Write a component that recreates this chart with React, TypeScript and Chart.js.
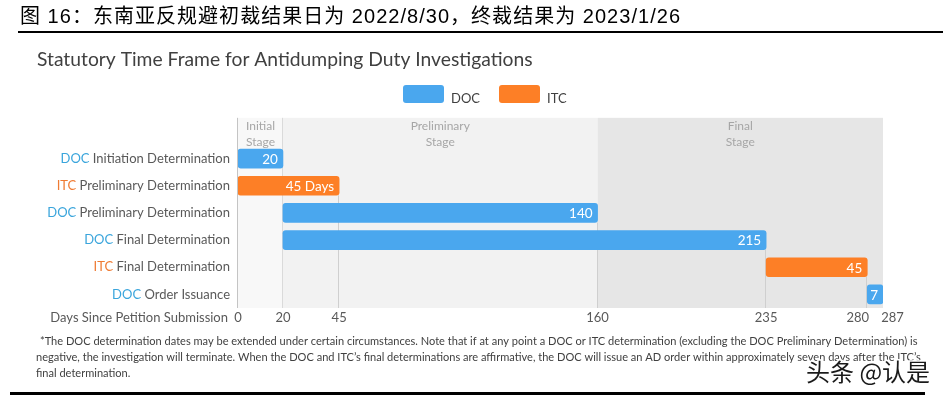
import React, { useEffect, useRef } from "react";
import { Chart, registerables } from "chart.js";

Chart.register(...registerables);

const headerText = "图 16：东南亚反规避初裁结果日为 2022/8/30，终裁结果为 2023/1/26";
const chartTitle = "Statutory Time Frame for Antidumping Duty Investigations";
const agencies = ["DOC", "ITC", "DOC", "DOC", "ITC", "DOC"];
const steps = [
  "Initiation Determination",
  "Preliminary Determination",
  "Preliminary Determination",
  "Final Determination",
  "Final Determination",
  "Order Issuance",
];
const categories = agencies.map((a, i) => a + " " + steps[i]);
const startDays = [0, 0, 20, 20, 235, 280];
const endDays = [20, 45, 160, 235, 280, 287];
const barLabels = ["20", "45 Days", "140", "215", "45", "7"];
const xTicks = [0, 20, 45, 160, 235, 280, 287];
const xAxisTitle = "Days Since Petition Submission";
const stageNames = [
  ["Initial", "Stage"],
  ["Preliminary", "Stage"],
  ["Final", "Stage"],
];
const stageStart = [0, 20, 160];
const stageEnd = [20, 160, 287];
const footnote = [
  "*The DOC determination dates may be extended under certain circumstances. Note that if at any point a DOC or ITC determination (excluding the DOC Preliminary Determination) is",
  "negative, the investigation will terminate. When the DOC and ITC\u2019s final determinations are affirmative, the DOC will issue an AD order within approximately seven days after the ITC\u2019s",
  "final determination.",
];
const watermark = "头条 @认是";

const BLUE = "#4aa7ee";
const ORANGE = "#fd7f26";
const DOC_TEXT = "#3aa5dc";
const ITC_TEXT = "#ef7b33";
const GRAY_TEXT = "#595959";
const STAGE_BG = ["#f8f8f8", "#f2f2f2", "#e6e6e6"];
const LATIN = "Lato, 'Liberation Sans', sans-serif";

function fitFont(ctx: CanvasRenderingContext2D, text: string, base: number, family: string, target: number) {
  ctx.font = base + "px " + family;
  const w = ctx.measureText(text).width;
  const size = (base * target) / w;
  ctx.font = size.toFixed(2) + "px " + family;
}

export default function App() {
  const ref = useRef<HTMLCanvasElement | null>(null);

  useEffect(() => {
    const canvas = ref.current;
    if (!canvas) return;

    const docData = categories.map((_, i) =>
      agencies[i] === "DOC" ? [startDays[i], endDays[i]] : null
    );
    const itcData = categories.map((_, i) =>
      agencies[i] === "ITC" ? [startDays[i], endDays[i]] : null
    );

    const decor = {
      id: "decor",
      beforeDraw(chart: any) {
        const ctx = chart.ctx;
        ctx.save();
        ctx.fillStyle = "#ffffff";
        ctx.fillRect(0, 0, chart.width, chart.height);
        ctx.restore();
      },
      beforeDatasetsDraw(chart: any) {
        const ctx = chart.ctx;
        const xs = chart.scales.x;
        const ys = chart.scales.y;
        const area = chart.chartArea;
        const rowH = area.height / categories.length;
        const top = area.top - rowH;
        ctx.save();
        stageStart.forEach((s, i) => {
          const x0 = xs.getPixelForValue(s);
          const x1 = xs.getPixelForValue(stageEnd[i]);
          ctx.fillStyle = STAGE_BG[i];
          ctx.fillRect(x0, top, x1 - x0, area.bottom - top);
          ctx.fillStyle = "#a6a6a6";
          ctx.font = "12px " + LATIN;
          ctx.textAlign = "center";
          ctx.textBaseline = "middle";
          ctx.fillText(stageNames[i][0], (x0 + x1) / 2, top + 8.5);
          ctx.fillText(stageNames[i][1], (x0 + x1) / 2, top + 24);
        });
        ctx.lineWidth = 1;
        [0, 20].forEach((v, k) => {
          const x = Math.round(xs.getPixelForValue(v)) - 0.5;
          ctx.strokeStyle = k === 0 ? "#c4c4c4" : "#dadada";
          ctx.beginPath();
          ctx.moveTo(x, top);
          ctx.lineTo(x, area.bottom);
          ctx.stroke();
        });
        ctx.strokeStyle = "#cfcfcf";
        endDays.forEach((e, i) => {
          if (e === 20 || e === xs.max) return;
          const x = Math.round(xs.getPixelForValue(e)) - 0.5;
          const y = ys.getPixelForValue(i) + 9.5;
          ctx.beginPath();
          ctx.moveTo(x, y);
          ctx.lineTo(x, area.bottom);
          ctx.stroke();
        });
        ctx.restore();
      },
      afterDatasetsDraw(chart: any) {
        const ctx = chart.ctx;
        const xs = chart.scales.x;
        const ys = chart.scales.y;
        const area = chart.chartArea;
        ctx.save();
        ctx.textBaseline = "middle";

        // bar value labels
        ctx.font = "13.5px " + LATIN;
        ctx.fillStyle = "#ffffff";
        ctx.textAlign = "right";
        endDays.forEach((e, i) => {
          ctx.fillText(barLabels[i], xs.getPixelForValue(e) - 5, ys.getPixelForValue(i) + 1);
        });

        // y labels with coloured agency prefix
        const labelRight = area.left - 8;
        ctx.font = "13px " + LATIN;
        categories.forEach((_, i) => {
          const y = ys.getPixelForValue(i);
          ctx.textAlign = "right";
          ctx.fillStyle = GRAY_TEXT;
          ctx.fillText(steps[i], labelRight, y);
          const w = ctx.measureText(" " + steps[i]).width;
          ctx.fillStyle = agencies[i] === "DOC" ? DOC_TEXT : ITC_TEXT;
          ctx.fillText(agencies[i], labelRight - w, y);
        });

        // x tick labels with overlap nudging
        ctx.font = "13px " + LATIN;
        ctx.fillStyle = GRAY_TEXT;
        ctx.textAlign = "center";
        const tickY = area.bottom + 10;
        const px = xTicks.map((v) => xs.getPixelForValue(v));
        const ws = xTicks.map((v) => ctx.measureText(String(v)).width);
        for (let i = 0; i < px.length - 1; i++) {
          const need = (ws[i] + ws[i + 1]) / 2 + 12;
          const gap = px[i + 1] - px[i];
          if (gap < need) {
            const d = (need - gap) / 2;
            px[i] -= d;
            px[i + 1] += d;
          }
        }
        xTicks.forEach((v, i) => ctx.fillText(String(v), px[i], tickY));
        ctx.textAlign = "right";
        ctx.fillText(xAxisTitle, area.left - 10, tickY);

        // header, spaced to its full width
        ctx.textAlign = "left";
        ctx.fillStyle = "#000000";
        ctx.font = "20px 'Liberation Sans', 'Noto Sans CJK SC', sans-serif";
        const chars = Array.from(headerText);
        const widths = chars.map((c) => ctx.measureText(c).width);
        const total = widths.reduce((a, b) => a + b, 0);
        const spacing = Math.max(0, (660 - total) / (chars.length - 1));
        let hx = 20;
        chars.forEach((c, i) => {
          ctx.fillText(c, hx, 17);
          hx += widths[i] + spacing;
        });
        ctx.fillRect(18, 31, chart.width - 18, 2);

        // chart title
        ctx.fillStyle = "#404040";
        fitFont(ctx, chartTitle, 19, LATIN, 496);
        ctx.fillText(chartTitle, 37, 60);

        // legend
        const legendX = [403, 499];
        chart.data.datasets.forEach((d: any, k: number) => {
          ctx.fillStyle = d.backgroundColor;
          ctx.beginPath();
          (ctx as any).roundRect(legendX[k], 85, 41, 18, 3);
          ctx.fill();
          ctx.fillStyle = "#404040";
          ctx.font = "13px " + LATIN;
          ctx.textAlign = "left";
          ctx.fillText(d.label, legendX[k] + 48, 99);
        });

        // footnote
        ctx.fillStyle = "#404040";
        fitFont(ctx, footnote[0], 11, LATIN, 878);
        ctx.textAlign = "left";
        footnote.forEach((line, i) => {
          ctx.fillText(line, i === 0 ? 40 : 36, 341 + i * 16);
        });

        // watermark
        ctx.font = "24px 'Noto Sans CJK SC', sans-serif";
        ctx.textAlign = "left";
        ctx.lineWidth = 3;
        ctx.strokeStyle = "#ffffff";
        ctx.strokeText(watermark, 806, 372);
        ctx.fillStyle = "#1a1a1a";
        ctx.fillText(watermark, 806, 372);

        // bottom rule
        ctx.fillStyle = "#000000";
        ctx.fillRect(10, 392, 915, 3);
        ctx.restore();
      },
    };

    const chart = new Chart(canvas, {
      type: "bar",
      data: {
        labels: categories,
        datasets: [
          { label: "DOC", data: docData as any, backgroundColor: BLUE },
          { label: "ITC", data: itcData as any, backgroundColor: ORANGE },
        ],
      },
      options: {
        indexAxis: "y",
        animation: false,
        responsive: false,
        maintainAspectRatio: false,
        layout: { padding: { left: 238, right: 60, top: 145, bottom: 89 } },
        datasets: {
          bar: {
            grouped: false,
            barThickness: 19,
            borderRadius: 3,
            borderSkipped: false,
          } as any,
        },
        plugins: {
          legend: { display: false },
          tooltip: { enabled: false },
          title: { display: false },
        },
        scales: {
          x: { type: "linear", min: 0, max: 287, display: false },
          y: { type: "category", display: false, offset: true },
        },
      },
      plugins: [decor],
    });

    return () => chart.destroy();
  }, []);

  return (
    <div style={{ position: "absolute", left: 0, top: 0, width: 943, height: 397 }}>
      <canvas ref={ref} width={943} height={397} style={{ display: "block", width: 943, height: 397 }} />
    </div>
  );
}
